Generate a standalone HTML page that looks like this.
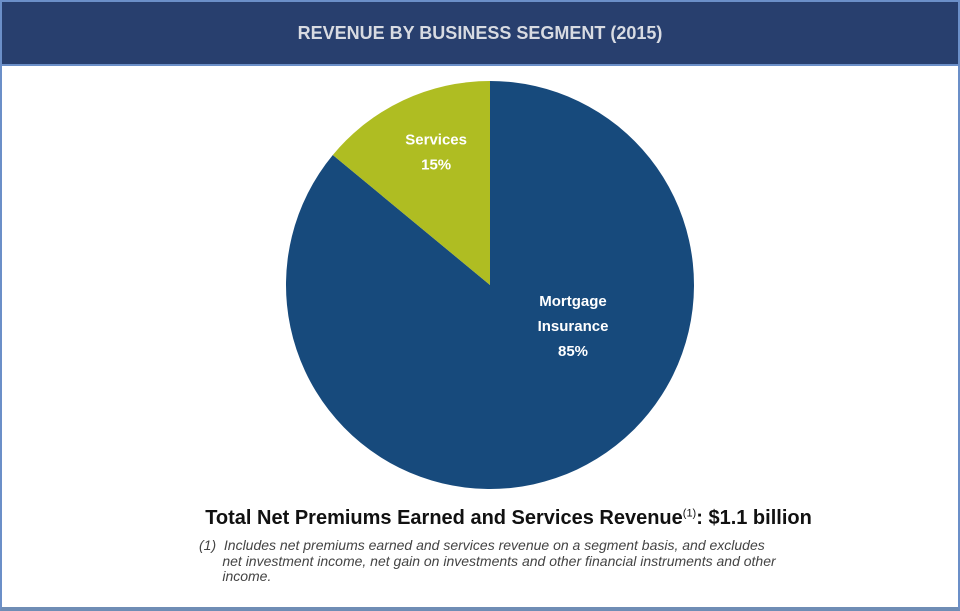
<!DOCTYPE html>
<html><head><meta charset="utf-8"><style>
body{margin:0;width:960px;height:611px;overflow:hidden;background:#fff;font-family:"Liberation Sans",sans-serif}
#frame{position:absolute;left:0;top:0;width:956px;height:605px;border:2px solid #6b8fc8;border-bottom:4px solid #6f8db5;background:#fff}
#hdr{position:absolute;left:0;top:0;width:956px;height:62px;background:#283f6e;border-bottom:2px solid #6b8fc8;color:#d8dbe2;font-weight:bold;font-size:18px;text-align:center;line-height:62px}
#total{position:absolute;left:0;width:960px;top:507px;text-align:center;font-weight:bold;font-size:20px;color:#111;padding-left:57px;box-sizing:border-box}
#total sup{font-size:11px;font-weight:normal}
#note{position:absolute;left:199px;top:538px;width:640px;font-style:italic;font-size:14px;color:#444;line-height:15.5px}
</style></head><body>
<div id="frame">
<div id="hdr">REVENUE BY BUSINESS SEGMENT (2015)</div>
</div>
<svg id="pie" width="960" height="611" style="position:absolute;left:0;top:0"></svg>
<div id="total">Total Net Premiums Earned and Services Revenue<sup>(1)</sup>: $1.1 billion</div>
<div id="note">(1)&nbsp; Includes net premiums earned and services revenue on a segment basis, and excludes<br>&nbsp;&nbsp;&nbsp;&nbsp;&nbsp;&nbsp;net investment income, net gain on investments and other financial instruments and other<br>&nbsp;&nbsp;&nbsp;&nbsp;&nbsp;&nbsp;income.</div>
<script>
const categories=["Mortgage Insurance","Services"];
const values=[86,14];
const labelLines=[["Mortgage","Insurance","85%"],["Services","15%"]];
const colors=["#174a7c","#afbd22"];
const cx=490,cy=285,r=204;
const svg=document.getElementById('pie');
const NS="http://www.w3.org/2000/svg";
const total=values.reduce((a,b)=>a+b,0);
let start=0;
values.forEach((v,i)=>{
  const a0=start/total*2*Math.PI, a1=(start+v)/total*2*Math.PI;
  const p=(a)=>[cx+r*Math.sin(a),cy-r*Math.cos(a)];
  const [x0,y0]=p(a0),[x1,y1]=p(a1);
  const large=(a1-a0)>Math.PI?1:0;
  const path=document.createElementNS(NS,'path');
  path.setAttribute('d',`M${cx},${cy}L${x0},${y0}A${r},${r} 0 ${large} 1 ${x1},${y1}Z`);
  path.setAttribute('fill',colors[i]);
  
  
  svg.appendChild(path);
  const mid=(a0+a1)/2;
  const lx=i===0?cx+83:cx+r*0.62*Math.sin(mid);
  const ly=i===0?cy+41:cy-r*0.72*Math.cos(mid);
  const lines=labelLines[i];
  const t=document.createElementNS(NS,'text');
  
  
  t.setAttribute('text-anchor','middle');
  t.setAttribute('fill','#fff');
  t.setAttribute('font-weight','bold');
  t.setAttribute('font-size','15');
  t.setAttribute('font-family','Liberation Sans, sans-serif');
  lines.forEach((ln,k)=>{
    const s=document.createElementNS(NS,'tspan');
    s.setAttribute('x',lx);
    s.setAttribute('y',ly-(lines.length-1)*12.5+k*25+5);
    s.textContent=ln;
    t.appendChild(s);
  });
  svg.appendChild(t);
  start+=v;
});
</script>
</body></html>
